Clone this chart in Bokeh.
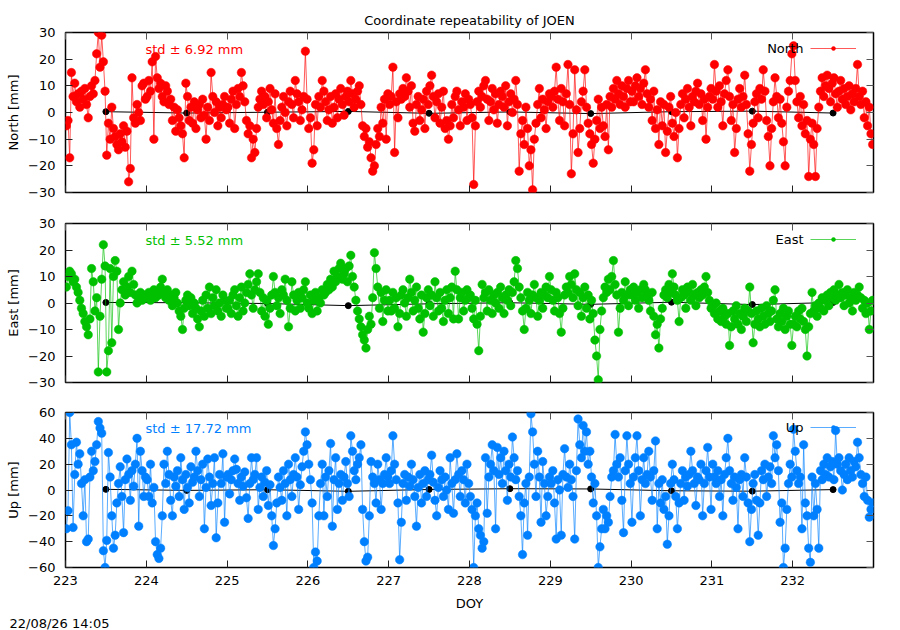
from bokeh.plotting import figure
from bokeh.models import (Range1d, FixedTicker, LinearAxis, Label, Legend,
                          LegendItem, ColumnDataSource, Title)
from bokeh.layouts import column
from bokeh.embed import file_html
from bokeh.resources import INLINE

# ---------------- data ----------------
PER_DAY = 48            # epochs per day (30 min)
DOY_START = 223
x_ticks = [223, 224, 225, 226, 227, 228, 229, 230, 231, 232]
north_ticks = [-30, -20, -10, 0, 10, 20, 30]
east_ticks = [-30, -20, -10, 0, 10, 20, 30]
up_ticks = [-60, -40, -20, 0, 20, 40, 60]

north = [
    # 223
    -5, -3, -17, 15, 6, 11, 4, 7, 2, 8, 5, 9, 3, -2, 6, 10, 7, 12, 22, 30, 17, 29, 19, 8,
    -16, -4, -10, 2, -6, -9, -12, -14, -8, -11, -5, -13, -7, -26, -21, 13, -2, -4, 3, 0, -3, 10, 11, 5,
    # 224
    6, 12, 8, 19, -10, 21, 13, 9, 11, 6, 4, 10, 8, 3, 5, -3, 2, -7, 1, -2, -5, -8, -17, 11,
    6, -3, 2, -4, 4, -6, 1, 3, -2, 5, -1, -10, 2, -3, 15, 6, 0, 4, -5, 2, -2, 3, 6, 1,
    # 225
    2, -4, 5, 8, -6, 3, 9, 6, 15, 10, 4, -3, -8, -5, -17, -10, -15, -6, 2, 5, 8, 3, 6, -2,
    4, 9, 1, -4, 7, -6, -12, -3, 2, 6, 0, -5, 4, 8, 3, -2, 12, 7, 4, -3, 1, 6, 23, 5,
    # 226
    -6, -2, -19, -14, 3, -5, 6, 2, 12, 8, 4, -3, 1, 6, -4, 2, 7, -2, 5, 9, 3, -1, 6, 8,
    4, 12, 7, 2, 5, 8, 10, 3, -5, -9, -6, -13, -11, -17, -22, -20, -12, -6, -9, 2, -4, 5, -10, 7,
    # 227
    3, 6, 17, -15, 4, -2, 7, 5, 9, 6, 13, 8, 2, 10, -4, -7, 3, 6, -3, 1, 5, -6, 8, 3,
    10, 14, 6, -2, 4, 7, -4, 2, 8, -6, -3, -10, -5, 3, -2, 6, 8, 1, -5, 4, 2, 7, -3, 5,
    # 228
    3, -2, -27, -5, 4, 8, 2, 6, 10, 12, 5, -3, 4, 9, 1, 7, -4, 3, 8, 6, 2, 10, -5, 4,
    7, 0, 5, 12, 3, -22, -8, -3, -12, 2, -6, -20, -14, -29, -10, -4, 3, 9, -2, 5, 1, -6, 4, 7,
    # 229
    6, 2, 8, 17, 5, -3, 9, 4, -5, 7, 18, 3, -23, -8, 16, 1, -15, -6, 4, 8, 16, 2, -4, -8,
    -12, -19, -10, -3, 5, -6, 2, -5, -9, 3, -14, 6, 2, 9, 5, 12, 7, 3, 10, 6, 2, 9, 12, 4,
    # 230
    8, 4, 10, 13, 6, 9, 3, 11, 16, 7, 2, 5, -3, 8, -6, 1, -12, 4, -5, 3, -15, -7, 2, 6,
    -4, -9, 0, -17, -6, 3, 7, -2, 5, 9, 2, -5, 6, 4, 8, 11, 3, 7, -3, 5, -10, 2, 6, 9,
    # 231
    5, 18, 8, 2, 10, 4, -5, 7, 12, 16, 6, -3, 3, -15, -6, 5, 9, 2, 6, 14, 3, -8, -22, -12,
    -4, 4, 7, -2, 9, 5, 16, 8, -3, -9, -20, -6, 4, 13, 6, -2, 5, -4, -11, -20, 2, 8, 12, 22,
    # 232
    25, 12, 4, -2, 6, -5, 3, -8, -3, -24, -10, -4, -12, -24, -6, 2, 8, 13, 6, 10, 14, 9, 4, 11,
    13, 7, 2, 8, 12, 5, 9, 3, 6, 10, 1, 7, 4, 9, 18, 6, 3, 8, -2, 4, -5, 2, -8, -12,
]

east = [
    # 223
    6, 10, 12, 11, 8, 9, 6, 4, 1, -2, -4, -7, -9, -12, -6, 13, 8, -3, 2, -26, -5, 9, 22, 14,
    -26, -18, 13, -15, 10, 16, 12, -10, 0, 5, 8, 3, 6, 10, 4, 12, 7, 3, 0, 2, 4, 1, 3, 2,
    # 224
    2, 4, 1, 3, 5, 2, 4, 3, 6, 9, 4, 2, 5, 1, 3, -1, 2, 4, 0, -3, -5, -10, -2, 1,
    3, -1, 2, -4, 0, -2, -6, -9, -3, 1, -5, 3, -2, 6, -4, 2, -1, 5, -3, 0, -5, 3, 1, -2,
    # 225
    -2, 1, -4, 3, 5, -1, -5, 2, 6, -3, 0, 4, 7, 11, 3, -2, 5, 8, 11, 4, -3, 2, -5, 1,
    -8, -2, 3, 10, 4, -1, 2, -4, 5, 3, 9, 1, -9, -2, 8, 3, -3, 1, 4, -2, 2, 5, 8, 0,
    # 226
    -2, 3, -4, 1, 4, -3, 2, 0, 5, 3, 4, 7, 5, 9, 6, 12, 8, 10, 13, 15, 9, 11, 13, 8,
    14, 18, 10, 6, 1, -3, -6, -9, -12, -14, -17, -10, -5, -8, 2, 19, 13, 6, -2, 4, -7, 1, 5, -3,
    # 227
    1, -3, 4, -2, 2, -9, -4, 3, 5, 0, -5, 2, 9, 4, -3, 1, 6, -2, -6, 3, -11, -4, 2, 5,
    -1, 3, -5, 8, 2, -3, 4, -2, -7, 1, 5, -4, 2, 6, -6, 12, 5, -6, 2, 4, -3, 1, 5, 2,
    # 228
    3, -2, -6, 1, -8, -18, -5, 7, 2, 4, -3, 5, 1, -4, 3, 0, 4, -2, 6, 2, -4, 3, 1, 5,
    -1, 4, 8, 16, 13, 6, 2, -3, -10, -2, 4, 1, -4, 3, 7, 2, -5, 1, 4, -2, 3, 6, 2, 10,
    # 229
    5, 1, -3, 4, 2, -4, -11, -2, 3, 6, 4, 10, 7, 2, 11, 5, -1, 4, -5, 2, 6, -2, 3, -6,
    1, -4, -14, -20, -29, -10, -3, 2, 6, 4, 9, 5, 10, 16, 7, 3, -11, -2, 4, 1, 8, 3, -1, 5,
    # 230
    3, 6, 1, 4, -2, 5, 2, 7, 5, 3, 1, -3, 4, -5, -12, -8, -17, -6, -2, 3, 5, 2, 7, 4,
    11, 6, 3, 1, -7, 2, 5, 3, -2, 6, 4, 1, 7, 3, -1, 4, 2, 5, 3, 6, 10, 4, 1, -2,
    # 231
    -1, -4, 0, -6, -3, -7, -2, -5, -8, -4, -16, -9, -3, -6, -1, -8, -4, -10, -5, -2, -7, -3, 6, -4,
    -15, -8, -3, -6, -9, -2, -5, -8, -1, -4, -7, -3, 1, 5, -6, -9, -4, -7, -2, -10, -5, -3, -8, -16,
    # 232
    -8, -5, -9, -3, -6, -2, -7, -10, -20, -9, -4, 4, -3, -1, -5, 0, -2, 2, -3, 1, 3, -1, 4, 2,
    5, 1, 3, 7, 2, 4, -1, 3, 5, 0, 2, -3, 4, 1, 3, 6, 2, -2, 1, -4, 0, -10, -3, 1,
]

up = [
    # 223
    -30, -16, 60, 35, -29, 12, 37, 20, 28, 5, -20, 8, -40, -38, 10, 30, 15, 22, 35, 53, 48, 44, -47, -60,
    -39, 29, 10, -20, -45, -35, -10, 5, 18, -5, -33, 8, 24, 12, -8, 15, 3, 20, 40, -28, 30, 15, -5, 10,
    # 224
    8, -5, 20, -10, 2, -40, -50, -53, -45, -20, 20, 5, 30, 12, -8, -20, 10, 3, 15, -5, 25, 8, -15, 12,
    2, -10, 18, 6, 10, 30, 15, -5, 8, 20, -30, 2, 24, 10, -12, 5, 25, -37, -10, 12, 5, 28, -25, 10,
    # 225
    12, -3, 8, 15, 24, 16, 5, -8, 10, 3, 14, -6, -22, 5, 25, 8, 12, 25, -15, 2, 10, -5, 6, 15,
    -12, 4, -20, -43, -30, -10, 10, 2, -8, 15, 5, -20, 20, 8, -5, 12, 25, 10, -15, 4, 18, 30, 45, 35,
    # 226
    20, 8, -10, -60, -48, -55, -20, 5, 20, -20, 10, -5, 15, 36, -28, 8, 25, -15, 5, 12, -8, 10, 22, 5,
    -5, 42, 30, 15, 8, 20, 25, 35, -15, -40, -55, -52, -20, 22, 10, 5, -10, 20, 8, -15, 5, 12, 25, 10,
    # 227
    5, 15, 42, 20, 8, -10, -54, -25, 5, 12, -8, 10, 3, 20, 8, -5, -28, 2, 12, -10, 5, 15, -5, 8,
    12, 27, 6, -8, -20, 2, 15, 8, -5, 10, 0, -15, 25, 5, -18, 8, 28, 12, -5, 15, 8, -10, 20, 5,
    # 228
    -5, -15, -60, -20, -10, -30, -35, -45, -40, 25, -18, 10, 20, 35, 15, -30, 33, 12, 25, 5, 30, 15, -8, 20,
    10, 41, 25, 8, 15, -5, -20, -50, -10, 5, -35, 10, 59, 45, 20, -5, 30, 10, -25, 22, 5, -20, -5, 10,
    # 229
    5, 15, -10, -38, 8, 0, -35, 12, 32, 10, 2, 20, 8, -5, -38, 15, 55, 35, 25, 50, 30, 45, 20, 30,
    10, -10, 5, -20, -60, -44, -30, -15, -30, -20, -25, -5, 10, 15, 43, 20, 10, 25, -8, -33, 15, 42, 20, 5,
    # 230
    -25, 10, 25, 42, 15, -20, 8, 25, 5, 12, 30, 10, -8, 15, 38, -30, 5, -10, 8, -15, -5, -42, -20, 5,
    20, 8, -5, -30, -10, 5, 15, -8, 10, 3, 12, 30, 15, 5, -12, 10, 8, 20, -20, 5, 15, 33, 10, -15,
    # 231
    20, 10, 5, 15, -5, 8, -20, 12, 25, 40, 15, 5, -8, 10, 2, -30, 8, 12, -5, 25, 10, -10, -40, -15,
    5, 12, -8, -35, -10, 15, 8, 20, -5, 10, 18, 5, 42, 25, 35, 15, -25, -10, -60, -45, -15, 5, 20, 10,
    # 232
    47, 30, 15, 5, 10, -30, 35, -10, -20, -45, -56, 10, -20, 5, -15, -45, 15, 8, 20, 12, 25, 10, 18, 22,
    8, 46, 20, 25, 15, 0, 12, 20, 8, 25, 15, 10, 22, 18, 37, 25, 12, 5, -5, 10, -8, -21, -15, -10,
]

daily_doy = [223.5, 224.5, 225.5, 226.5, 227.5, 228.5, 229.5, 230.5, 231.5, 232.5]
north_daily = [0.3, -0.2, 0.1, 0.4, -0.3, 0.2, -0.4, 0.3, 0.5, -0.2]
east_daily = [0.2, 0.1, -0.2, -1.0, -0.3, 0.1, -0.5, 0.3, -0.6, 0.2]
up_daily = [0.5, -0.3, 0.2, -1.0, 0.4, 1.0, 0.8, -0.6, -0.9, 0.3]

std_north = "std \u00b1 6.92 mm"
std_east = "std \u00b1 5.52 mm"
std_up = "std \u00b1 17.72 mm"

title_text = "Coordinate repeatability of JOEN"
stamp_text = "22/08/26 14:05"

# ---------------- styling ----------------
FONT = "DejaVu Sans"
FS = "13px"
FRAME_W = 808


def epochs(values):
    return [DOY_START + (i + 0.5) / PER_DAY for i in range(len(values))]


def make_panel(name, ylabel, color, values, daily, ylim, yticks, frame_h,
               top, bottom, std_text, leg_y, show_x):
    p = figure(output_backend="svg", toolbar_location=None,
               frame_width=FRAME_W, frame_height=frame_h,
               x_range=Range1d(223, 233), y_range=Range1d(*ylim),
               min_border_left=65, min_border_right=26,
               min_border_top=top, min_border_bottom=bottom)
    p.background_fill_color = "white"
    p.border_fill_color = "white"
    p.outline_line_color = "black"
    p.outline_line_width = 1.5
    p.xgrid.grid_line_color = None
    p.ygrid.grid_line_color = None

    xt = FixedTicker(ticks=x_ticks)
    yt = FixedTicker(ticks=yticks)

    xa = p.xaxis[0]
    xa.ticker = xt
    ya = p.yaxis[0]
    ya.ticker = yt
    for ax in (xa, ya):
        ax.axis_line_color = None
        ax.major_tick_in = 7
        ax.major_tick_out = 0
        ax.major_tick_line_color = "#222222"
        ax.minor_tick_line_color = None
        ax.major_label_text_font = FONT
        ax.major_label_text_font_size = FS
        ax.major_label_text_color = "black"
        ax.axis_label_text_font = FONT
        ax.axis_label_text_font_size = FS
        ax.axis_label_text_font_style = "normal"
        ax.axis_label_text_color = "black"
    ya.major_label_standoff = 10
    ya.axis_label = ylabel
    ya.axis_label_standoff = 4
    if show_x:
        xa.major_label_standoff = 8
        xa.axis_label = "DOY"
        xa.axis_label_standoff = 8
    else:
        xa.major_label_text_font_size = "1px"
        xa.major_label_text_color = None
        xa.major_label_standoff = 0

    for loc, tk in (("above", xt), ("right", yt)):
        ax = LinearAxis(ticker=tk, axis_line_color=None, major_tick_in=7,
                        major_tick_out=0, major_tick_line_color="#555555",
                        minor_tick_line_color=None,
                        major_label_text_font_size="1px",
                        major_label_text_color=None,
                        major_label_standoff=0)
        p.add_layout(ax, loc)

    # daily solutions (black), drawn underneath the epoch series
    dsrc = ColumnDataSource(dict(x=daily_doy, y=daily))
    p.line("x", "y", source=dsrc, line_color="black", line_width=1)
    p.scatter("x", "y", source=dsrc, marker="circle", size=6,
              fill_color="black", line_color="black")

    src = ColumnDataSource(dict(x=epochs(values), y=values))
    lr = p.line("x", "y", source=src, line_color=color, line_width=1,
                line_alpha=0.65)
    sr = p.scatter("x", "y", source=src, marker="circle", size=8.5,
                   fill_color=color, line_color=color, line_width=0.5)

    # legend symbol (line + marker); the name is a right-aligned text
    leg = Legend(items=[LegendItem(label=" ", renderers=[lr, sr])],
                 location=(745, leg_y), padding=0, margin=0, spacing=0,
                 label_standoff=0, label_width=0, label_height=10,
                 glyph_width=46, glyph_height=10,
                 border_line_color=None, background_fill_alpha=0,
                 label_text_font_size="1px")
    p.add_layout(leg)
    p.add_layout(Label(x=738, y=leg_y + 5, x_units="screen", y_units="screen",
                       text=name, text_align="right", text_baseline="middle",
                       text_font=FONT, text_font_size=FS, text_color="black"))
    p.add_layout(Label(x=80, y=leg_y + 4, x_units="screen", y_units="screen",
                       text=std_text, text_align="left", text_baseline="middle",
                       text_font=FONT, text_font_size=FS, text_color=color))
    return p


p_n = make_panel("North", "North [mm]", "#ff0000", north, north_daily,
                 (-30, 30), north_ticks, 160, 32, 15, std_north, 139, False)
p_e = make_panel("East", "East [mm]", "#00c000", east, east_daily,
                 (-30, 30), east_ticks, 159, 16, 15, std_east, 138, False)
p_u = make_panel("Up", "Up [mm]", "#0080ff", up, up_daily,
                 (-60, 60), up_ticks, 155, 15, 63, std_up, 135, True)

p_n.title.text = title_text
p_n.title.align = "center"
p_n.title.vertical_align = "top"
p_n.title.text_font = FONT
p_n.title.text_font_size = FS
p_n.title.text_font_style = "normal"
p_n.title.text_color = "black"
p_n.title.standoff = 6
p_n.title.text_line_height = 1.6

stamp = Title(text=stamp_text, align="left", offset=-56, text_font=FONT,
              text_font_size=FS, text_font_style="normal", text_color="black",
              standoff=0)
p_u.add_layout(stamp, "below")

layout = column(p_n, p_e, p_u, spacing=0)
open("out.html", "w").write(file_html(layout, INLINE))
